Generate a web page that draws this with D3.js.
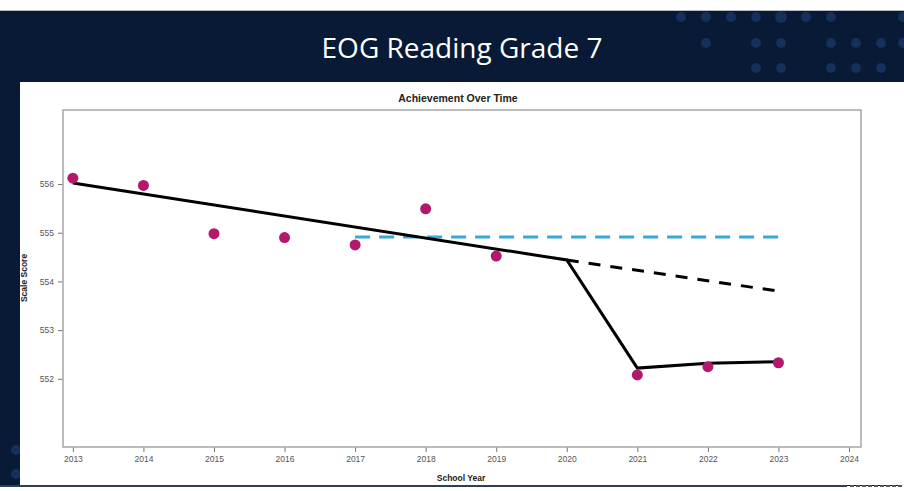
<!DOCTYPE html>
<html lang="en">
<head>
<meta charset="utf-8">
<title>EOG Reading Grade 7</title>
<script src="https://cdn.jsdelivr.net/npm/d3@7"></script>
<style>
  body { margin: 0; background: #fff; }
  svg { display: block; }
  .tick text { font-family: "Liberation Sans", Arial, sans-serif; font-size: 8.5px; fill: #555; }
  .tick line { stroke: #777; }
</style>
</head>
<body>
<div id="chart"></div>
<script>
// observed scores
var years = [2013, 2014, 2015, 2016, 2017, 2018, 2019, 2021, 2022, 2023];
var scores = [556.12, 555.97, 554.98, 554.9, 554.75, 555.49, 554.52, 552.08, 552.25, 552.33];

// fitted line (solid), projection (black dashed), target (blue dashed)
var fitYears = [2013, 2020, 2021, 2022, 2023];
var fitValues = [556.02, 554.44, 552.22, 552.32, 552.35];
var projYears = [2020, 2023];
var projValues = [554.44, 553.8];
var targetYears = [2017, 2023];
var targetValues = [554.91, 554.91];

var xTicks = [2013, 2014, 2015, 2016, 2017, 2018, 2019, 2020, 2021, 2022, 2023, 2024];
var yTicks = [552, 553, 554, 555, 556];

var W = 904, H = 491;
var navy = "#081a35";

var svg = d3.select("#chart").append("svg")
  .attr("width", W).attr("height", H);

// slide background
svg.append("rect").attr("x", 0).attr("y", 11).attr("width", W).attr("height", 475).attr("fill", navy);
svg.append("line").attr("x1", 0).attr("x2", W).attr("y1", 10.5).attr("y2", 10.5)
  .attr("stroke", "#b8bcc2").attr("stroke-width", 1);

// decorative dots in the header
var dotRows = [
  {y: 17, xs: [681, 706, 731, 756, 781, 806, 831, 903]},
  {y: 43, xs: [706, 756, 781, 831, 856, 881, 903]},
  {y: 68, xs: [756, 781, 831, 856, 881]},
  {y: 450, xs: [16]},
  {y: 474, xs: [16]}
];
dotRows.forEach(function(r) {
  svg.selectAll(null).data(r.xs).enter().append("circle")
    .attr("cx", function(d) { return d; })
    .attr("cy", r.y)
    .attr("r", function(d) { return d == 781 && r.y == 17 ? 6 : 5; })
    .attr("fill", "#15305a");
});

svg.append("text")
  .attr("x", 462).attr("y", 58)
  .attr("text-anchor", "middle")
  .attr("font-family", "'Open Sans', sans-serif")
  .attr("font-size", "28px")
  .attr("fill", "#fff")
  .text("EOG Reading Grade 7");

// white chart panel
svg.append("rect").attr("x", 20).attr("y", 82).attr("width", 882).attr("height", 403).attr("fill", "#fff");
svg.append("line").attr("x1", 902.5).attr("x2", 902.5).attr("y1", 82).attr("y2", 486)
  .attr("stroke", "#c8c8c8").attr("stroke-width", 1);
svg.append("rect").attr("x", 902).attr("y", 82).attr("width", 2).attr("height", 404).attr("fill", "#fff");
svg.append("line").attr("x1", 0).attr("x2", 847).attr("y1", 486).attr("y2", 486)
  .attr("stroke", "#2e3f55").attr("stroke-width", 2);
svg.append("line").attr("x1", 850).attr("x2", 904).attr("y1", 486).attr("y2", 486)
  .attr("stroke", "#555").attr("stroke-width", 2).attr("stroke-dasharray", "4,2");

// plot area
var plot = {left: 63, right: 861, top: 110, bottom: 447};

var x = d3.scaleLinear().domain([2012.86, 2024.17]).range([plot.left, plot.right]);
var y = d3.scaleLinear().domain([550.6, 557.52]).range([plot.bottom, plot.top]);

svg.append("g")
  .attr("transform", "translate(0," + plot.bottom + ")")
  .call(d3.axisBottom(x).tickValues(xTicks).tickFormat(d3.format("d")).tickSize(5).tickPadding(4))
  .call(function(g) { g.select(".domain").remove(); });

svg.append("g")
  .attr("transform", "translate(" + plot.left + ",0)")
  .call(d3.axisLeft(y).tickValues(yTicks).tickFormat(d3.format("d")).tickSize(5).tickPadding(4))
  .call(function(g) { g.select(".domain").remove(); });

svg.append("rect")
  .attr("x", plot.left).attr("y", plot.top)
  .attr("width", plot.right - plot.left).attr("height", plot.bottom - plot.top)
  .attr("fill", "none").attr("stroke", "#a6a6a6").attr("stroke-width", 1.5);

var line = d3.line()
  .x(function(d) { return x(d[0]); })
  .y(function(d) { return y(d[1]); });

svg.append("path")
  .datum(d3.zip(targetYears, targetValues))
  .attr("d", line)
  .attr("fill", "none").attr("stroke", "#35aad6").attr("stroke-width", 3)
  .attr("stroke-dasharray", "15,9");

svg.append("path")
  .datum(d3.zip(projYears, projValues))
  .attr("d", line)
  .attr("fill", "none").attr("stroke", "#000").attr("stroke-width", 3)
  .attr("stroke-dasharray", "12,10");

svg.append("path")
  .datum(d3.zip(fitYears, fitValues))
  .attr("d", line)
  .attr("fill", "none").attr("stroke", "#000").attr("stroke-width", 3)
  .attr("stroke-linejoin", "miter");

svg.selectAll(".pt")
  .data(d3.zip(years, scores))
  .enter().append("circle")
  .attr("class", "pt")
  .attr("cx", function(d) { return x(d[0]); })
  .attr("cy", function(d) { return y(d[1]); })
  .attr("r", 5.5)
  .attr("fill", "#b3186c");

// titles
svg.append("text")
  .attr("x", 458).attr("y", 102)
  .attr("text-anchor", "middle")
  .attr("font-family", "'Liberation Sans', Arial, sans-serif")
  .attr("font-size", "10.5px").attr("font-weight", "bold")
  .attr("fill", "#222")
  .text("Achievement Over Time");

svg.append("text")
  .attr("x", 461).attr("y", 481)
  .attr("text-anchor", "middle")
  .attr("font-family", "'Liberation Sans', Arial, sans-serif")
  .attr("font-size", "8.5px").attr("font-weight", "bold")
  .attr("fill", "#222")
  .text("School Year");

svg.append("text")
  .attr("transform", "translate(27,278) rotate(-90)")
  .attr("text-anchor", "middle")
  .attr("font-family", "'Liberation Sans', Arial, sans-serif")
  .attr("font-size", "8.5px").attr("font-weight", "bold")
  .attr("fill", "#222")
  .text("Scale Score");
</script>
</body>
</html>
